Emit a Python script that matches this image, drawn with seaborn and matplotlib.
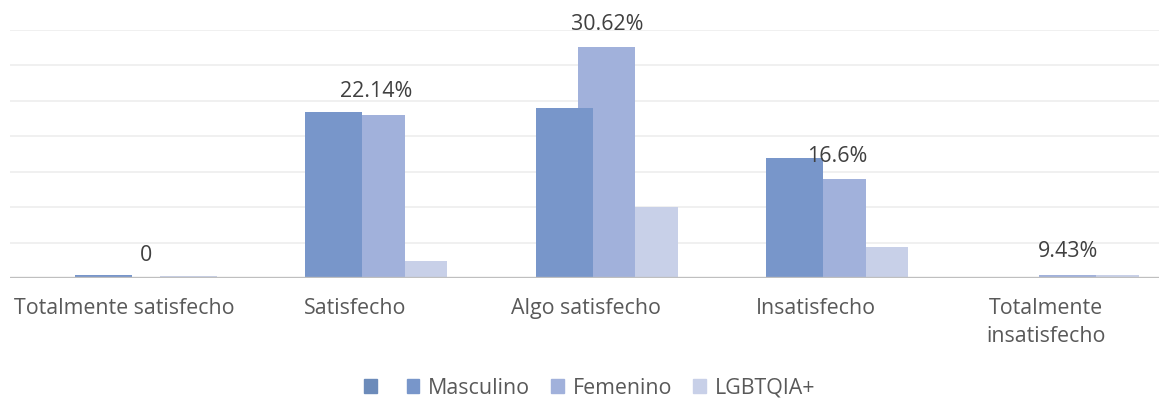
import pandas as pd
import matplotlib
import matplotlib.pyplot as plt
import matplotlib.patches as mpatches
import seaborn as sns

categorias = ["Totalmente satisfecho", "Satisfecho", "Algo satisfecho",
              "Insatisfecho", "Totalmente\ninsatisfecho"]
series = ["Serie1", "Masculino", "Femenino", "LGBTQIA+"]
serie1 = [0, 0, 0, 0, 0]
masculino = [0.38, 23.4, 23.94, 16.9, 0]
femenino = [0, 22.96, 32.5, 13.94, 0.47]
lgbtqia = [0.3, 2.44, 9.96, 4.4, 0.38]
etiquetas = ["0", "22.14%", "30.62%", "16.6%", "9.43%"]
colores = ["#6C8BBA", "#7896CA", "#A1B1DB", "#C8D0E8"]

rows = []
for s, vals in zip(series, [serie1, masculino, femenino, lgbtqia]):
    for c, v in zip(categorias, vals):
        rows.append({"categoria": c, "serie": s, "valor": v})
df = pd.DataFrame(rows)

sns.set_style("white")
plt.rcParams['font.family'] = ['Open Sans', 'DejaVu Sans']
fs = 15.4

fig = plt.figure(figsize=(11.59, 4.01), dpi=100)
ax = fig.add_axes([0.0082, 0.3067, 0.9918, 0.6197])
sns.barplot(data=df, x="categoria", y="valor", hue="serie", order=categorias,
            hue_order=series, palette=colores, width=0.738, saturation=1,
            errorbar=None, legend=False, ax=ax)

# overlapping bars like the original chart
bw = 0.247
for i, cont in enumerate(ax.containers):
    for p in cont.patches:
        cx = p.get_x() + p.get_width() / 2
        p.set_x(cx - bw / 2)
        p.set_width(bw)
        p.set_zorder(10 - i)
        p.set_linewidth(0)

ax.bar_label(ax.containers[2], labels=etiquetas, padding=9, fontsize=fs,
             color="#404040", zorder=20)

ax.set_xlim(-0.5, 4.489)
ax.set_ylim(0, 35)
ax.set_yticks([5, 10, 15, 20, 25, 30, 35])
ax.yaxis.grid(True, color="#EDEDED", lw=1.2)
ax.set_axisbelow(True)
ax.axhline(0, color="#BFBFBF", lw=2.4, zorder=15)
ax.tick_params(axis="y", left=False, labelleft=False)
ax.tick_params(axis="x", bottom=False, pad=11, labelsize=fs, labelcolor="#595959")
for t in ax.get_xticklabels():
    t.set_linespacing(1.45)
ax.set_xlabel("")
ax.set_ylabel("")
sns.despine(ax=ax, left=True, bottom=True, top=True, right=True)

handles = [mpatches.Patch(color=c) for c in colores]
fig.legend(handles, ["", "Masculino", "Femenino", "LGBTQIA+"], loc="center",
           bbox_to_anchor=(0.5087, 0.032), ncol=4, frameon=False, fontsize=fs,
           handlelength=0.6, handleheight=0.6, handletextpad=0.4,
           columnspacing=1.0, labelcolor="#595959")

fig.savefig("out.png", dpi=100)
